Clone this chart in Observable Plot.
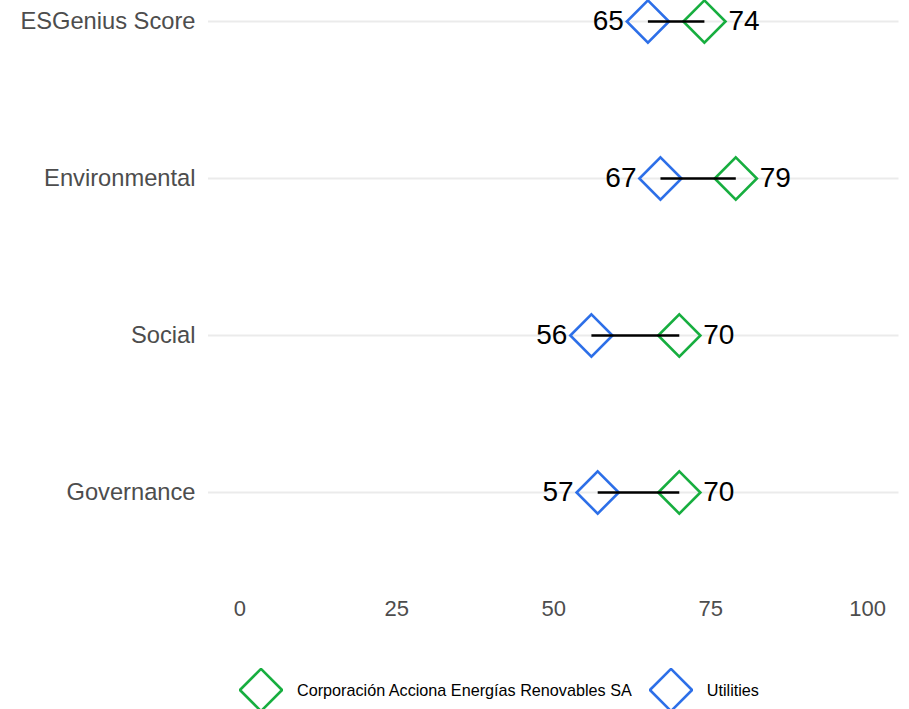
<!DOCTYPE html>
<html>
<head>
<meta charset="utf-8">
<script src="https://cdn.jsdelivr.net/npm/d3@7"></script>
<script src="https://cdn.jsdelivr.net/npm/@observablehq/plot@0.6"></script>
<style>
  body { margin: 0; background: #fff; font-family: "Liberation Sans", Arial, sans-serif; }
  #legend { display: flex; align-items: center; height: 44px; padding-left: 239px; margin-top: 20px; font-size: 16.2px; color: #000; }
  #legend .sw { width: 44px; height: 44px; margin-right: 14px; }
  #legend .lab { margin-right: 17px; }
</style>
</head>
<body>
<div id="chart"></div>
<div id="legend"></div>
<script>
const categories = ["ESGenius Score", "Environmental", "Social", "Governance"];
const companyName = "Corporación Acciona Energías Renovables SA";
const peerName = "Utilities";
const companyValues = [74, 79, 70, 70];
const peerValues = [65, 67, 56, 57];
const xTicks = [0, 25, 50, 75, 100];
const green = "#17ae3f";
const blue = "#2d6fe8";

const rows = categories.map((c, i) => ({cat: c, company: companyValues[i], peer: peerValues[i]}));

const chart = Plot.plot({
  width: 909,
  height: 648,
  marginLeft: 208,
  marginRight: 10.5,
  marginTop: 0,
  marginBottom: 58,
  style: {fontFamily: "'Liberation Sans', Arial, sans-serif", background: "#fff"},
  x: {domain: [-5, 105]},
  y: {type: "point", domain: categories, range: [20, 493], padding: 0},
  marks: [
    Plot.gridY({stroke: "#ebebeb", strokeOpacity: 1, strokeWidth: 1.8}),
    Plot.dot(rows, {x: "peer", y: "cat", symbol: "diamond2", r: 19, stroke: blue, strokeWidth: 2.6, fill: "none"}),
    Plot.dot(rows, {x: "company", y: "cat", symbol: "diamond2", r: 19, stroke: green, strokeWidth: 2.6, fill: "none"}),
    Plot.link(rows, {x1: "peer", x2: "company", y1: "cat", y2: "cat", stroke: "#000", strokeWidth: 2.4}),
    Plot.text(rows, {x: "peer", y: "cat", text: d => String(d.peer), textAnchor: "end", dx: -24, fontSize: 28, fill: "#000", lineAnchor: "middle"}),
    Plot.text(rows, {x: "company", y: "cat", text: d => String(d.company), textAnchor: "start", dx: 24, fontSize: 28, fill: "#000", lineAnchor: "middle"}),
    Plot.axisX({ticks: xTicks, tickSize: 0, tickPadding: 10, fontSize: 22, color: "#4d4d4d", label: null}),
    Plot.axisY({tickSize: 0, tickPadding: 13, fontSize: 23.7, color: "#4d4d4d", label: null})
  ]
});
document.getElementById("chart").appendChild(chart);

const legend = d3.select("#legend");
[[companyName, green], [peerName, blue]].forEach(([name, col]) => {
  const svg = legend.append("svg").attr("class", "sw").attr("viewBox", "0 0 44 44");
  svg.append("path")
    .attr("d", d3.symbol(d3.symbolDiamond2, Math.PI * 19 * 19)())
    .attr("transform", "translate(22,22)")
    .attr("fill", "none").attr("stroke", col).attr("stroke-width", 2.6);
  legend.append("span").attr("class", "lab").text(name);
});
</script>
</body>
</html>
